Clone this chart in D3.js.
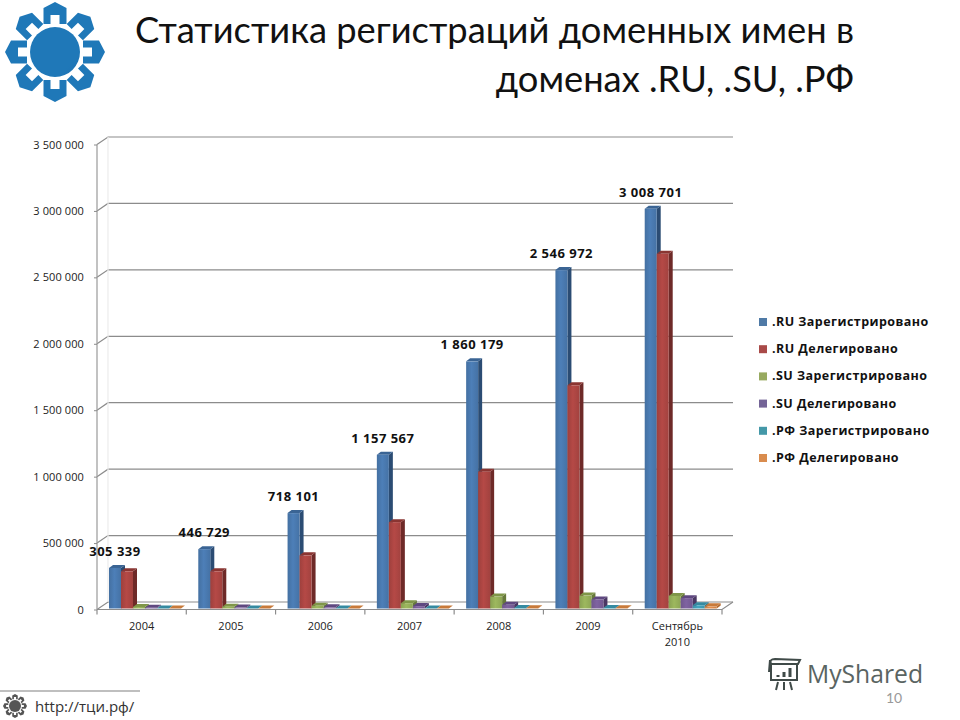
<!DOCTYPE html>
<html>
<head>
<meta charset="utf-8">
<style>
  html, body { margin: 0; padding: 0; background: #fff; }
  svg { display: block; }
</style>
<script src="https://cdn.jsdelivr.net/npm/d3@7"></script>
</head>
<body>
<svg id="chart" width="960" height="720"></svg>
<script>
// values
const categories = ["2004", "2005", "2006", "2007", "2008", "2009", "Сентябрь 2010"];
const seriesNames = [".RU Зарегистрировано", ".RU Делегировано", ".SU Зарегистрировано", ".SU Делегировано", ".РФ Зарегистрировано", ".РФ Делегировано"];
const ruRegistered = [305339, 446729, 718101, 1157567, 1860179, 2546972, 3008701];
const ruDelegated = [280000, 280000, 400000, 650000, 1030000, 1680000, 2670000];
const suRegistered = [12000, 14000, 20000, 40000, 90000, 97000, 95000];
const suDelegated = [6000, 7000, 9000, 18000, 28000, 68000, 78000];
const rfRegistered = [0, 0, 0, 0, 4000, 4000, 24000];
const rfDelegated = [0, 0, 0, 0, 2000, 2000, 16000];
const yTicks = [0, 500000, 1000000, 1500000, 2000000, 2500000, 3000000, 3500000];
const titleLines = ["Статистика регистраций доменных имен в", "доменах .RU, .SU, .РФ"];

const seriesValues = [ruRegistered, ruDelegated, suRegistered, suDelegated, rfRegistered, rfDelegated];
const frontColors = ["#4a7ab0", "#ad4643", "#96b05a", "#7a5f9a", "#3f9fb8", "#dc8a4a"];
const sideColors = ["#2b4c73", "#6e2a28", "#66793a", "#4a3763", "#2b7185", "#b56c30"];
const topColors = ["#3a6494", "#8a3532", "#7f9648", "#5f4880", "#358aa0", "#c87a3a"];
const legendColors = ["#4f7aa6", "#a94a48", "#98aa60", "#746497", "#4498a8", "#d98c4e"];

const svg = d3.select("#chart");
const font = "Lato, 'Open Sans', sans-serif";
const tickFont = "'Open Sans', 'Noto Sans', sans-serif";

// depth of the fake 3d
const wallX = 11, wallY = -7.5, barDX = 4, barDY = 3;

const x = d3.scaleBand().domain(categories).range([97, 722]);
const xInner = d3.scaleBand().domain(seriesNames).range([12, 84]);
const y = d3.scaleLinear().domain([0, 3500000]).range([609.5, 144.5]);
const fmt = v => d3.format(",")(v).replace(/,/g, " ");

// title
svg.selectAll("text.title").data(titleLines).enter().append("text")
  .attr("class", "title")
  .attr("x", 854)
  .attr("y", (d, i) => 43 + i * 49)
  .attr("text-anchor", "end")
  .attr("font-family", font)
  .attr("font-size", 36.3)
  .attr("fill", "#111")
  .text(d => d);

// walls and grid
const grid = svg.append("g").attr("fill", "none").attr("stroke", "#8c8c8c").attr("stroke-width", 1.2);
yTicks.forEach(t => {
  grid.append("path").attr("d", d3.line()([
    [97, y(t)], [97 + wallX, y(t) + wallY], [722 + wallX, y(t) + wallY]
  ]));
});
grid.append("line").attr("x1", 97).attr("x2", 97).attr("y1", y(3500000)).attr("y2", y(0)).attr("stroke", "#999");
grid.append("line").attr("x1", 108).attr("x2", 108).attr("y1", y(3500000) + wallY).attr("y2", y(0) + wallY).attr("stroke", "#ececec");
grid.append("path").attr("d", d3.line()([[97, y(0)], [722, y(0)], [722 + wallX, y(0) + wallY]]));

// y axis, labels only, the ticks sit on the diagonal grid
const yAxis = svg.append("g")
  .attr("transform", "translate(97,0)")
  .call(d3.axisLeft(y).tickValues(yTicks).tickFormat(fmt).tickSize(3).tickPadding(10));
yAxis.select(".domain").remove();
yAxis.selectAll("line").attr("stroke", "#8c8c8c");
yAxis.selectAll("text").attr("font-family", tickFont).attr("font-size", 11).attr("letter-spacing", 0.1).attr("fill", "#222");

// x axis
const boundaries = categories.map(c => x(c)).concat([x.range()[1]]);
svg.append("g").selectAll("line").data(boundaries).enter().append("line")
  .attr("x1", d => d).attr("x2", d => d)
  .attr("y1", y(0)).attr("y2", y(0) + 5)
  .attr("stroke", "#8c8c8c").attr("stroke-width", 1.2);

const xAxis = svg.append("g")
  .attr("transform", "translate(0," + y(0) + ")")
  .call(d3.axisBottom(x).tickSize(0).tickPadding(13));
xAxis.select(".domain").remove();
xAxis.selectAll("text")
  .attr("font-family", tickFont).attr("font-size", 11).attr("fill", "#222")
  .each(function(d) {
    const parts = d.split(" ");
    if (parts.length > 1) {
      const t = d3.select(this).text(null);
      parts.forEach((p, i) => {
        t.append("tspan").attr("x", 0).attr("dy", i === 0 ? "0.71em" : 16).text(p);
      });
    }
  });

// bars
const defs = svg.append("defs");
frontColors.forEach((c, i) => {
  const g = defs.append("linearGradient").attr("id", "front" + i);
  g.append("stop").attr("offset", "0%").attr("stop-color", d3.color(c).darker(0.25));
  g.append("stop").attr("offset", "45%").attr("stop-color", d3.color(c).brighter(0.12));
  g.append("stop").attr("offset", "100%").attr("stop-color", d3.color(c).darker(0.18));
});

categories.forEach((cat, ci) => {
  const bars = svg.append("g");
  seriesNames.forEach((name, si) => {
    const v = seriesValues[si][ci];
    const x0 = x(cat) + xInner(name);
    const w = xInner.bandwidth();
    const base = y(0) - 1;
    const top = y(v) - 1;
    bars.append("path")
      .attr("fill", sideColors[si])
      .attr("d", d3.line()([[x0 + w, top], [x0 + w + barDX, top - barDY], [x0 + w + barDX, base - barDY], [x0 + w, base]]) + "Z");
    bars.append("path")
      .attr("fill", topColors[si])
      .attr("d", d3.line()([[x0, top], [x0 + barDX, top - barDY], [x0 + w + barDX, top - barDY], [x0 + w, top]]) + "Z");
    bars.append("rect")
      .attr("x", x0).attr("y", top)
      .attr("width", w).attr("height", base - top)
      .attr("fill", "url(#front" + si + ")");
  });
});

// data labels over the .RU registered bars
svg.append("g").selectAll("text").data(categories).enter().append("text")
  .attr("x", d => x(d) + xInner(seriesNames[0]) + xInner.bandwidth() / 2)
  .attr("y", (d, i) => y(ruRegistered[i]) - 13)
  .attr("text-anchor", "middle")
  .attr("font-family", tickFont)
  .attr("font-size", 13)
  .attr("letter-spacing", 0.5)
  .attr("font-weight", 700)
  .attr("fill", "#111")
  .text((d, i) => fmt(ruRegistered[i]));

// legend
const legendY = d3.scalePoint().domain(seriesNames).range([322, 458]);
const legend = svg.append("g").selectAll("g").data(seriesNames).enter().append("g")
  .attr("transform", d => "translate(759," + legendY(d) + ")");
legend.append("rect")
  .attr("x", 0).attr("y", -4).attr("width", 8).attr("height", 8)
  .attr("fill", (d, i) => legendColors[i]);
legend.append("text")
  .attr("x", 13).attr("y", 4)
  .attr("font-family", tickFont)
  .attr("font-size", 12.5)
  .attr("letter-spacing", 0.45)
  .attr("font-weight", 700)
  .attr("fill", "#111")
  .text(d => d);

// gear logo top left
function gear(cx, cy, s, colorA, colorB, id) {
  const grad = defs.append("linearGradient").attr("id", id)
    .attr("gradientUnits", "userSpaceOnUse")
    .attr("x1", cx - 40 * s).attr("y1", cy - 40 * s).attr("x2", cx + 40 * s).attr("y2", cy + 40 * s);
  grad.append("stop").attr("offset", "0%").attr("stop-color", colorA);
  grad.append("stop").attr("offset", "100%").attr("stop-color", colorB);
  const g = svg.append("g").attr("transform", "translate(" + cx + "," + cy + ") scale(" + s + ")");
  d3.range(8).forEach(i => {
    g.append("path")
      .attr("transform", "rotate(" + i * 45 + ")")
      .attr("fill", "url(#" + id + ")")
      .attr("d", "M0,-50 L11.5,-44 L11.5,-28 L4.5,-28 L4.5,-37 L-4.5,-37 L-4.5,-28 L-11.5,-28 L-11.5,-44 Z");
  });
  g.append("circle").attr("r", 25).attr("fill", "url(#" + id + ")");
}
gear(55, 52, 1, "#1f78b8", "#1f4a9c", "gearBlue");

// footer link box
svg.append("line").attr("x1", 0).attr("x2", 140).attr("y1", 691).attr("y2", 691).attr("stroke", "#aaa").attr("stroke-width", 1.5);
gear(15, 706, 0.24, "#555", "#555", "gearGray");
svg.append("text")
  .attr("x", 35).attr("y", 712)
  .attr("font-family", tickFont)
  .attr("font-size", 15)
  .attr("font-weight", 500)
  .attr("fill", "#333")
  .text("http://тци.рф/");

// MyShared watermark
const mark = svg.append("g").attr("fill", "none").attr("stroke", "#3f4a48").attr("stroke-width", 2);
mark.append("path").attr("d", "M771,664 L771,680 L797,680 L797,664 M771,664 Q769,659 775,659 L800,660 L798,664 L771,664 M769,672 L770,660");
mark.append("path").attr("d", "M778,682 L776,690 M784,682 L784,690 M790,682 L792,690");
mark.append("path").attr("d", "M778,677 L778,675 M784,677 L784,672 M790,677 L790,668").attr("stroke-width", 3);
svg.append("text")
  .attr("x", 807).attr("y", 683)
  .attr("font-family", tickFont)
  .attr("font-size", 24.7)
  .attr("fill", "#5a6462")
  .text("MyShared");

// slide number, just under the watermark so both stay readable
svg.append("text")
  .attr("x", 894).attr("y", 703)
  .attr("text-anchor", "middle")
  .attr("font-family", font)
  .attr("font-size", 14)
  .attr("fill", "#999")
  .text("10");
</script>
</body>
</html>
